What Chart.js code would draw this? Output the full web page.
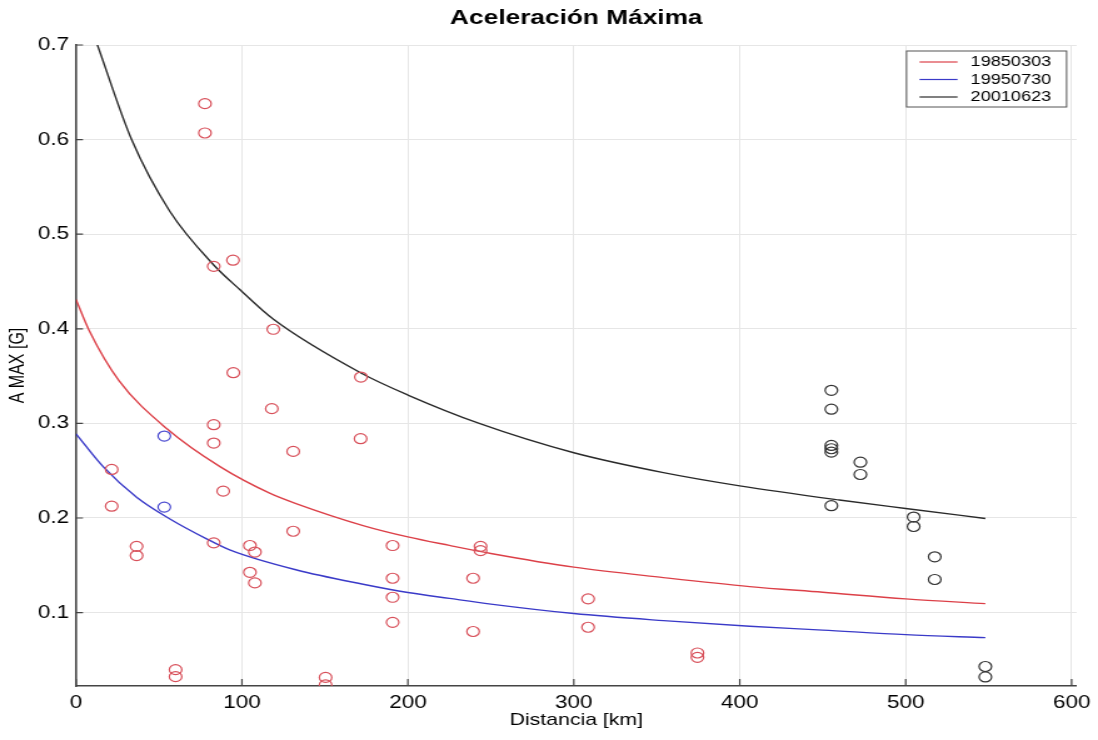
<!DOCTYPE html>
<html>
<head>
<meta charset="utf-8">
<script src="https://cdn.jsdelivr.net/npm/chart.js@4.4.1/dist/chart.umd.min.js"></script>
<style>
  html, body { margin: 0; padding: 0; background: #fff; }
</style>
</head>
<body>
<!-- el original está estirado en horizontal, se dibuja más angosto y se escala por CSS -->
<canvas id="grafica" width="878" height="740" style="display:block;width:1098px;height:740px;"></canvas>
<script>
const ESTIRO = 1098 / 878;

const xTicks = [0, 100, 200, 300, 400, 500, 600];
const yTicks = [0.1, 0.2, 0.3, 0.4, 0.5, 0.6, 0.7];

const titulo = 'Aceleración Máxima';
const etiquetas = ['19850303', '19950730', '20010623'];

// curvas de atenuacion
const curva1985X = [0, 8, 26, 55, 87, 117, 133, 173, 200, 225, 250, 300, 354, 406, 450, 500, 548];
const curva1985Y = [0.431, 0.398, 0.345, 0.294, 0.254, 0.226, 0.215, 0.192, 0.180, 0.171, 0.1625, 0.148, 0.137, 0.1275, 0.1215, 0.1145, 0.1095];

const curva1995X = [0, 16.5, 36.5, 56.6, 78.7, 93, 133, 173, 200, 225, 250, 300, 354, 406, 450, 500, 548];
const curva1995Y = [0.289, 0.254, 0.222, 0.199, 0.178, 0.166, 0.145, 0.130, 0.1212, 0.115, 0.109, 0.099, 0.0915, 0.0855, 0.0815, 0.0767, 0.0735];

const curva2001X = [12.5, 33.5, 56.6, 82.7, 99, 119, 172, 200, 243, 300, 354, 400, 460, 500, 548];
const curva2001Y = [0.702, 0.600, 0.524, 0.468, 0.441, 0.410, 0.353, 0.330, 0.300, 0.269, 0.248, 0.234, 0.219, 0.210, 0.1995];

// registros de estaciones
const obs1985X = [77.7, 77.7, 83, 94.6, 118.9, 94.8, 171.7, 118, 83, 83, 171.5, 130.9, 21.5, 21.5, 88.7, 130.9,
                  36.5, 36.5, 83, 104.8, 107.8, 104.8, 107.8, 190.8, 190.8, 190.8, 190.8, 243.8, 243.8,
                  239.3, 239.3, 308.6, 308.6, 374.5, 374.5, 60, 60, 150.4, 150.4];
const obs1985Y = [0.638, 0.607, 0.466, 0.4725, 0.3995, 0.3536, 0.349, 0.3156, 0.2986, 0.2792, 0.2838, 0.2704, 0.2513, 0.2125, 0.2284, 0.186,
                  0.170, 0.1603, 0.1737, 0.1709, 0.164, 0.1426, 0.1314, 0.1709, 0.1363, 0.1162, 0.0897, 0.170, 0.1655,
                  0.1363, 0.080, 0.1145, 0.0845, 0.0573, 0.0527, 0.0397, 0.0323, 0.0315, 0.0235];

const obs1995X = [53.2, 53.2];
const obs1995Y = [0.2866, 0.2115];

const obs2001X = [455.2, 455.2, 455.2, 455.2, 455.2, 455.2, 472.7, 472.7, 504.8, 504.8, 517.5, 517.5, 548, 548];
const obs2001Y = [0.335, 0.315, 0.2767, 0.2732, 0.2696, 0.213, 0.259, 0.246, 0.201, 0.191, 0.159, 0.135, 0.043, 0.032];

const colores = ['#dc4048', '#3a3ac8', '#2a2a2a'];
const coloresPunto = ['#d8505a', '#4a4ad0', '#333333'];

function juntar(xs, ys) {
    return xs.map((x, i) => ({ x: x, y: ys[i] }));
}

function curva(i, xs, ys) {
    return {
        type: 'line',
        label: etiquetas[i],
        data: juntar(xs, ys),
        borderColor: colores[i],
        borderWidth: 1.4,
        pointRadius: 0,
        cubicInterpolationMode: 'monotone',
        fill: false,
        esCurva: true
    };
}

function puntos(i, xs, ys) {
    return {
        type: 'scatter',
        label: etiquetas[i] + ' obs',
        data: juntar(xs, ys),
        borderColor: coloresPunto[i],
        backgroundColor: 'rgba(0,0,0,0)',
        pointStyle: 'circle',
        pointRadius: 5,
        pointBorderWidth: 1.2,
        showLine: false
    };
}

// ticks hacia adentro, como en matlab
const marcasInternas = {
    id: 'marcasInternas',
    afterDraw(chart) {
        const ctx = chart.ctx;
        const area = chart.chartArea;
        const sx = chart.scales.x;
        const sy = chart.scales.y;
        ctx.save();
        ctx.strokeStyle = '#444';
        ctx.lineWidth = 1.2;
        ctx.beginPath();
        xTicks.forEach(v => {
            const px = sx.getPixelForValue(v);
            ctx.moveTo(px, area.bottom);
            ctx.lineTo(px, area.bottom - 7);
        });
        yTicks.forEach(v => {
            const py = sy.getPixelForValue(v);
            ctx.moveTo(area.left, py);
            ctx.lineTo(area.left + 7 / ESTIRO, py);
        });
        ctx.stroke();
        ctx.restore();
    }
};

// titulo centrado sobre el area de la grafica, no sobre el canvas
const tituloArea = {
    id: 'tituloArea',
    afterDraw(chart) {
        const ctx = chart.ctx;
        const area = chart.chartArea;
        ctx.save();
        ctx.font = 'bold 21px "Liberation Sans", Arial, sans-serif';
        ctx.fillStyle = '#000';
        ctx.textAlign = 'center';
        ctx.textBaseline = 'middle';
        ctx.fillText(titulo, (area.left + area.right) / 2, 18);
        ctx.restore();
    }
};

const leyenda = {
    id: 'leyenda',
    afterDraw(chart) {
        const ctx = chart.ctx;
        const area = chart.chartArea;
        const izq = area.right - 136;
        const der = area.right - 8;
        const arriba = area.top + 6;
        const abajo = area.top + 62;
        ctx.save();
        ctx.fillStyle = '#fff';
        ctx.fillRect(izq, arriba, der - izq, abajo - arriba);
        ctx.strokeStyle = '#555';
        ctx.lineWidth = 1;
        ctx.strokeRect(izq, arriba, der - izq, abajo - arriba);
        const curvas = chart.data.datasets.filter(d => d.esCurva);
        ctx.font = '14.5px "Liberation Sans", Arial, sans-serif';
        ctx.textBaseline = 'middle';
        ctx.textAlign = 'left';
        curvas.forEach((d, i) => {
            const y = arriba + 11 + i * 17.5;
            ctx.strokeStyle = d.borderColor;
            ctx.lineWidth = 1.2;
            ctx.beginPath();
            ctx.moveTo(area.right - 125.6, y);
            ctx.lineTo(area.right - 95.2, y);
            ctx.stroke();
            ctx.fillStyle = '#000';
            ctx.fillText(d.label, area.right - 84.8, y);
        });
        ctx.restore();
    }
};

Chart.defaults.font.family = '"Liberation Sans", Arial, sans-serif';
Chart.defaults.color = '#000';

new Chart(document.getElementById('grafica'), {
    type: 'scatter',
    data: {
        datasets: [
            puntos(0, obs1985X, obs1985Y),
            puntos(1, obs1995X, obs1995Y),
            puntos(2, obs2001X, obs2001Y),
            curva(0, curva1985X, curva1985Y),
            curva(1, curva1995X, curva1995Y),
            curva(2, curva2001X, curva2001Y)
        ]
    },
    options: {
        responsive: false,
        devicePixelRatio: 1,
        animation: false,
        layout: { padding: { left: 0, right: 16.4, top: 45, bottom: 0 } },
        plugins: {
            legend: { display: false },
            tooltip: { enabled: false },
            title: { display: false }
        },
        scales: {
            x: {
                type: 'linear',
                min: 0,
                max: 603,
                afterBuildTicks: s => { s.ticks = xTicks.map(v => ({ value: v })); },
                afterFit: s => { s.height = 54; },
                ticks: {
                    padding: 6,
                    font: { size: 18 },
                    color: '#000',
                    callback: v => String(v)
                },
                grid: { color: '#e6e6e6', lineWidth: 1, drawTicks: false },
                border: { display: true, color: '#444', width: 1.6 },
                title: {
                    display: true,
                    text: 'Distancia [km]',
                    font: { size: 17 },
                    color: '#000',
                    padding: { top: 0, bottom: 9.8 }
                }
            },
            y: {
                type: 'linear',
                min: 0.0224,
                max: 0.7,
                afterBuildTicks: s => { s.ticks = yTicks.map(v => ({ value: v })); },
                afterFit: s => { s.width = 76 / ESTIRO; },
                ticks: {
                    padding: 5.6,
                    font: { size: 18 },
                    color: '#000',
                    callback: v => v.toFixed(1)
                },
                grid: { color: '#e6e6e6', lineWidth: 1, drawTicks: false },
                border: { display: true, color: '#444', width: 1.6 },
                title: {
                    display: true,
                    text: 'A MAX [G]',
                    font: { size: 16 },
                    color: '#000',
                    padding: { top: 4.8, bottom: 0 }
                }
            }
        }
    },
    plugins: [marcasInternas, tituloArea, leyenda]
});
</script>
</body>
</html>
